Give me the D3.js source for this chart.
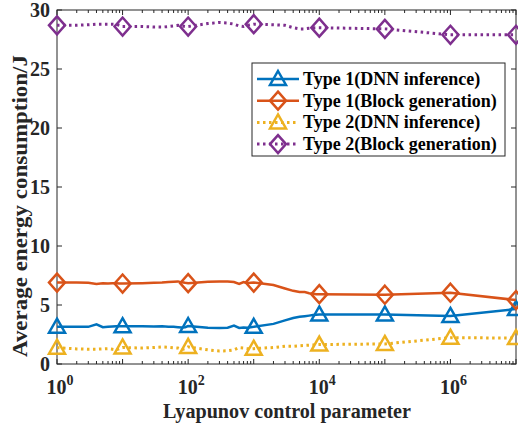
<!DOCTYPE html>
<html><head><meta charset="utf-8">
<script src="https://cdn.jsdelivr.net/npm/d3@7"></script>
<style>body{margin:0;background:#fff;} svg{display:block;}</style>
</head><body>
<script>
const xValues = [1,2,3,4,5,6,7,8,9,
  10,20,30,40,50,60,70,80,90,
  100,200,300,400,500,600,700,800,900,
  1000,2000,3000,4000,5000,6000,7000,8000,9000,
  10000,100000,1000000,10000000];
const type1DNN = [3.16,3.15,3.15,3.36,3.12,3.15,3.18,3.2,3.2,
  3.2,3.2,3.18,3.2,3.15,3.15,3.12,3.1,3.12,
  3.22,3.08,3.05,3.08,3.25,3.05,3.1,3.08,3.12,
  3.15,3.4,3.7,3.9,4.0,4.05,4.1,4.15,4.18,
  4.2,4.2,4.07,4.66];
const type1Block = [6.9,6.9,6.88,6.78,6.85,6.82,6.85,6.85,6.82,
  6.82,6.85,6.88,6.9,6.95,6.98,7.0,6.92,6.88,
  6.85,6.98,7.0,7.0,6.95,6.78,6.95,6.85,6.88,
  6.9,6.7,6.4,6.2,6.1,6.1,6.0,5.95,5.92,
  5.92,5.87,6.04,5.42];
const type2DNN = [1.38,1.28,1.25,1.25,1.28,1.3,1.25,1.2,1.3,
  1.4,1.35,1.4,1.45,1.42,1.38,1.35,1.22,1.3,
  1.45,1.2,1.1,1.12,1.2,1.38,1.35,1.3,1.28,
  1.3,1.4,1.5,1.5,1.55,1.58,1.6,1.62,1.64,
  1.65,1.7,2.23,2.2];
const type2Block = [28.7,28.7,28.75,28.8,28.8,28.8,28.8,28.78,28.7,
  28.6,28.6,28.55,28.55,28.6,28.65,28.7,28.65,28.6,
  28.6,28.85,28.95,28.9,28.8,28.65,28.6,28.7,28.75,
  28.8,28.75,28.7,28.5,28.4,28.4,28.45,28.48,28.5,
  28.5,28.4,27.9,27.9];
const seriesNames = ["Type 1(DNN inference)","Type 1(Block generation)","Type 2(DNN inference)","Type 2(Block generation)"];
const seriesColors = ["#0072BD","#D95319","#EDB120","#7E2F8E"];
const seriesMarkers = ["triangle","diamond","triangle","diamond"];
const seriesDashed = [false,false,true,true];
const yTicks = [0,5,10,15,20,25,30];
const xTickExps = [0,2,4,6];

const series = [type1DNN,type1Block,type2DNN,type2Block];
const W=518,H=425;
const m={l:57,r:516,t:10,b:364};
const svg=d3.select("body").append("svg").attr("width",W).attr("height",H);
const x=d3.scaleLog().domain([1,1e7]).range([m.l,m.r]);
const y=d3.scaleLinear().domain([0,30]).range([m.b,m.t]);
const axc="#262626";
function txt(sel,size){return sel.style("font-family","Liberation Serif").style("font-weight","bold").style("font-size",size+"px");}

svg.append("rect").attr("x",m.l).attr("y",m.t).attr("width",m.r-m.l).attr("height",m.b-m.t)
  .attr("fill","none").attr("stroke",axc).attr("stroke-width",1);

const minor=[];
for(let e=0;e<7;e++) for(let k=2;k<=9;k++) minor.push(k*Math.pow(10,e));
const major=d3.range(0,8).map(e=>Math.pow(10,e));
const tg=svg.append("g").attr("stroke",axc).attr("stroke-width",1);
minor.forEach(v=>{const px=x(v);
  tg.append("line").attr("x1",px).attr("x2",px).attr("y1",m.b).attr("y2",m.b-3);
  tg.append("line").attr("x1",px).attr("x2",px).attr("y1",m.t).attr("y2",m.t+3);});
major.forEach(v=>{const px=x(v);
  tg.append("line").attr("x1",px).attr("x2",px).attr("y1",m.b).attr("y2",m.b-5);
  tg.append("line").attr("x1",px).attr("x2",px).attr("y1",m.t).attr("y2",m.t+5);});
yTicks.forEach(v=>{const py=y(v);
  tg.append("line").attr("x1",m.l).attr("x2",m.l+5).attr("y1",py).attr("y2",py);
  tg.append("line").attr("x1",m.r).attr("x2",m.r-5).attr("y1",py).attr("y2",py);});

yTicks.forEach(v=>{
  txt(svg.append("text"),20).attr("x",m.l-7).attr("y",y(v)+6.5).attr("text-anchor","end")
    .attr("fill",axc).text(v);
});
xTickExps.forEach(e=>{
  const t=txt(svg.append("text"),20).attr("x",x(Math.pow(10,e))+3).attr("y",394).attr("text-anchor","middle")
    .attr("fill",axc);
  t.append("tspan").text("10");
  t.append("tspan").attr("dy",-9).style("font-size","14px").text(e);
});

txt(svg.append("text"),20).attr("x",287).attr("y",418).attr("text-anchor","middle")
  .attr("textLength",248).attr("lengthAdjust","spacingAndGlyphs")
  .attr("fill",axc).text("Lyapunov control parameter");
txt(svg.append("text"),20).attr("transform",`translate(27,206) rotate(-90)`).attr("text-anchor","middle")
  .attr("textLength",302).attr("lengthAdjust","spacingAndGlyphs")
  .attr("fill",axc).text("Average energy consumption/J");

function markerPath(type){
  if(type==="triangle") return "M0,-8 L8,6 L-8,6 Z";
  return "M0,-9 L8,0 L0,9 L-8,0 Z";
}

const line=d3.line().x((d,i)=>x(xValues[i])).y(d=>y(d));
series.forEach((s,si)=>{
  const g=svg.append("g");
  g.append("path").attr("d",line(s)).attr("fill","none").attr("stroke",seriesColors[si])
    .attr("stroke-width",seriesDashed[si]?3:2.5)
    .attr("stroke-dasharray",seriesDashed[si]?"2.5,3.5":null);
  s.forEach((v,i)=>{
    const xv=xValues[i];
    if(Math.abs(Math.log10(xv)-Math.round(Math.log10(xv)))<1e-9){
      g.append("path").attr("d",markerPath(seriesMarkers[si]))
        .attr("transform",`translate(${x(xv)},${y(v)})`)
        .attr("fill","none").attr("stroke",seriesColors[si]).attr("stroke-width",2.5);
    }
  });
});

const lg=svg.append("g");
lg.append("rect").attr("x",252).attr("y",63).attr("width",253).attr("height",93)
  .attr("fill","#fff").attr("stroke",axc).attr("stroke-width",1);
seriesNames.forEach((n,i)=>{
  const cy=79+i*21.7;
  lg.append("line").attr("x1",257).attr("x2",299).attr("y1",cy).attr("y2",cy)
    .attr("stroke",seriesColors[i]).attr("stroke-width",seriesDashed[i]?3:2.5)
    .attr("stroke-dasharray",seriesDashed[i]?"2.5,3.5":null);
  lg.append("path").attr("d",markerPath(seriesMarkers[i])).attr("transform",`translate(278,${cy})`)
    .attr("fill","none").attr("stroke",seriesColors[i]).attr("stroke-width",2.5);
  txt(lg.append("text"),18).attr("x",303).attr("y",cy+6).attr("fill","#000").text(n);
});
</script>
</body></html>
